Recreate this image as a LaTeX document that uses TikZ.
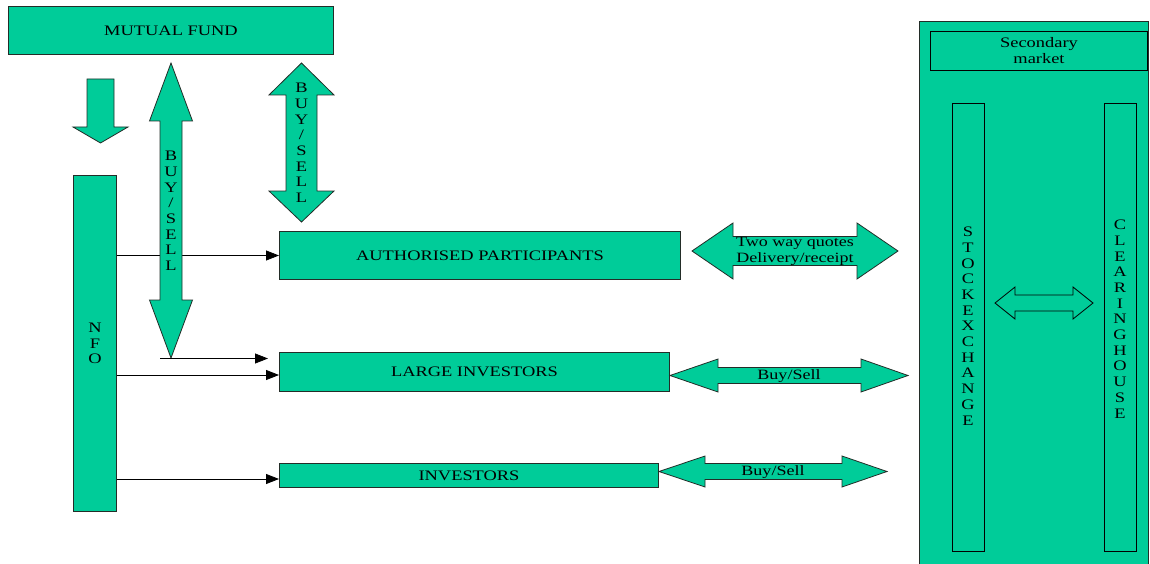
\documentclass[tikz,border=0pt]{standalone}
\usepackage{fontspec}
\setmainfont[FakeStretch=1.27]{Liberation Serif}
\usetikzlibrary{arrows.meta}
\definecolor{fundgreen}{RGB}{0,204,153}
\definecolor{edgecol}{RGB}{35,45,40}
\begin{document}
\begin{tikzpicture}[x=1pt,y=-1pt,
  box/.style={draw=edgecol, fill=fundgreen, line width=1pt, inner sep=0pt,
    font=\fontsize{14.5}{16}\selectfont, align=center},
  blockarrow/.style={draw=edgecol, fill=fundgreen, line width=0.8pt, line join=miter},
  link/.style={draw=black, line width=0.8pt, -{Triangle[length=13pt,width=10pt]}},
  stack/.style={align=center, inner sep=0pt, font=\fontsize{14.5}{15.7}\selectfont},
  lbl/.style={inner sep=0pt, align=center, font=\fontsize{14.2}{16.5}\selectfont}]
\useasboundingbox (0,0) rectangle (1150,564);

% main boxes
\node[box, anchor=north west, minimum width=325pt, minimum height=48pt] (mf) at (8,6) {MUTUAL FUND};
\node[box, anchor=north west, minimum width=43pt, minimum height=336pt, font=\fontsize{14.5}{15.7}\selectfont] (nfo) at (73,175) {N\\F\\O};
\node[box, anchor=north west, minimum width=401pt, minimum height=48pt] (ap) at (279,231) {AUTHORISED PARTICIPANTS};
\node[box, anchor=north west, minimum width=390pt, minimum height=39pt] (li) at (279,352) {LARGE INVESTORS};
\node[box, anchor=north west, minimum width=379pt, minimum height=24pt] (inv) at (279,463) {INVESTORS};

% thin connectors (behind block arrows)
\draw[link] (nfo.east |- ap.west) -- (ap.west);
\draw[link] (nfo.east |- 0,375) -- (li.west |- 0,375);
\draw[link] (nfo.east |- 0,479) -- (inv.west |- 0,479);

% down arrow from mutual fund
\draw[blockarrow] (87,79) -- (114,79) -- (114,127) -- (128,127) -- (100.5,143) -- (73,127) -- (87,127) -- cycle;

% long BUY/SELL double arrow
\draw[blockarrow] (171,63) -- (192.5,121) -- (182,121) -- (182,300) -- (192.5,300) -- (171,358)
  -- (149.5,300) -- (160,300) -- (160,121) -- (149.5,121) -- cycle;
\node[stack] (bs1) at (171,211) {B\\U\\Y\\/\\S\\E\\L\\L};
\coordinate (bsTip) at (171,358.5);
\coordinate (bsEnd) at (268,358.5);
\draw[link] ([xshift=-11pt]bsTip) -- (bsEnd);

% short BUY/SELL double arrow
\draw[blockarrow] (301.5,63) -- (334,95) -- (317,95) -- (317,191) -- (334,191) -- (301.5,222)
  -- (269,191) -- (286,191) -- (286,95) -- (269,95) -- cycle;
\node[stack] (bs2) at (301.5,143) {B\\U\\Y\\/\\S\\E\\L\\L};

% horizontal double arrows
\draw[blockarrow] (692,251) -- (733,223) -- (733,236.5) -- (857,236.5) -- (857,223) -- (898,251)
  -- (857,279) -- (857,265.5) -- (733,265.5) -- (733,279) -- cycle;
\node[lbl] (twq) at (795,251.5) {Two way quotes\\Delivery/receipt};

\draw[blockarrow] (670,375.5) -- (718,359) -- (718,367.5) -- (861,367.5) -- (861,359) -- (908,375.5)
  -- (861,392) -- (861,383.5) -- (718,383.5) -- (718,392) -- cycle;
\node[lbl] (bsl) at (789,376) {Buy/Sell};

\draw[blockarrow] (659,471.5) -- (705,456) -- (705,463.5) -- (842,463.5) -- (842,456) -- (887,471.5)
  -- (842,487) -- (842,479.5) -- (705,479.5) -- (705,487) -- cycle;
\node[lbl] (bsi) at (773,472) {Buy/Sell};

% secondary market panel
\fill[fundgreen] (919,22) rectangle (1148,575);
\draw[edgecol, line width=1pt] (919,575) -- (919,22) -- (1148,22) -- (1148,575);
\node[box, draw=black, anchor=north west, minimum width=217pt, minimum height=39pt] (sm) at (930,31) {Secondary\\market};
\node[box, draw=black, anchor=north west, minimum width=32pt, minimum height=448pt] (se) at (952,103) {};
\node[box, draw=black, anchor=north west, minimum width=32pt, minimum height=448pt] (ch) at (1104,103) {};
\node[stack] (setext) at (968,326) {S\\T\\O\\C\\K\\E\\X\\C\\H\\A\\N\\G\\E};
\node[stack] (chtext) at (1120,319) {C\\L\\E\\A\\R\\I\\N\\G\\H\\O\\U\\S\\E};
\draw[blockarrow, draw=black] (995,303) -- (1015,287) -- (1015,295) -- (1073,295) -- (1073,287) -- (1093,303)
  -- (1073,319) -- (1073,311) -- (1015,311) -- (1015,319) -- cycle;
\end{tikzpicture}
\end{document}
